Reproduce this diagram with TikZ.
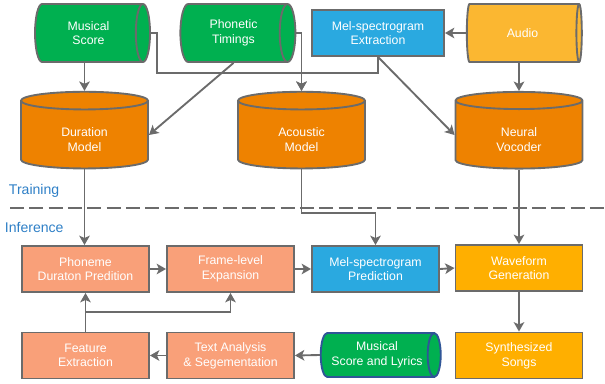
\documentclass[tikz,border=0pt]{standalone}
\usepackage{fontspec}
\setmainfont{Liberation Sans}
\usetikzlibrary{shapes.geometric,arrows.meta}

\definecolor{edgegray}{HTML}{6B6B6B}
\definecolor{dgreen}{HTML}{00B050}
\definecolor{dorange}{HTML}{EE8200}
\definecolor{dblue}{HTML}{2AA9E0}
\definecolor{dyellow}{HTML}{FBB731}
\definecolor{dgold}{HTML}{FFAF00}
\definecolor{dsalmon}{HTML}{F9A079}
\definecolor{dnavy}{HTML}{2F5597}
\definecolor{labelblue}{HTML}{2E7FC6}

\begin{document}
\begin{tikzpicture}
  [x=0.03cm,y=-0.03cm,
   every node/.style={text=white,font=\fontsize{10.5}{12.5}\selectfont,align=center,
     draw=edgegray,line width=1.6pt,inner sep=0pt},
   box/.style={rectangle,minimum width=3.81cm,minimum height=1.38cm},
   hcyl/.style={cylinder,aspect=0.6,cylinder uses custom fill,
     cylinder body fill=#1,cylinder end fill=#1,minimum width=1.74cm,minimum height=3.45cm},
   vcyl/.style={cylinder,shape border rotate=90,aspect=0.38,cylinder uses custom fill,
     cylinder body fill=dorange,cylinder end fill=dorange,minimum width=3.81cm,minimum height=2.3cm},
   arr/.style={draw=edgegray,line width=1.6pt,-{Stealth[length=8pt,width=9pt,inset=2pt]}},
   ln/.style={draw=edgegray,line width=1.6pt}]
  \useasboundingbox (0,0) rectangle (605,383);

  % training
  \node (ms)[hcyl=dgreen] at (88.5,33) {Musical\\Score};
  \node (pt)[hcyl=dgreen] at (233.5,33) {Phonetic\\Timings};
  \node (me)[box,fill=dblue,minimum width=3.96cm] at (378,33) {Mel-spectrogram\\Extraction};
  \node (au)[hcyl=dyellow] at (522.5,33) {Audio};
  \node (dm)[vcyl] at (84.5,135) {\mbox{}\\[3pt]Duration\\Model};
  \node (am)[vcyl] at (301.5,135) {\mbox{}\\[3pt]Acoustic\\Model};
  \node (nv)[vcyl] at (519,135) {\mbox{}\\[3pt]Neural\\Vocoder};

  \node (tr)[draw=none,text=labelblue,font=\fontsize{12}{14}\selectfont,anchor=west] at (8,191) {Training};
  \node (inf)[draw=none,text=labelblue,font=\fontsize{12}{14}\selectfont,anchor=west] at (4,227) {Inference};
  \coordinate (d1) at (10,208);
  \coordinate (d2) at (605,208);
  \draw[ln,line width=2pt,dash pattern=on 12pt off 4.5pt] (d1) -- (d2);

  % inference
  \node (pd)[box,fill=dsalmon] at (85.5,269) {Phoneme\\Duraton Predition};
  \node (fl)[box,fill=dsalmon] at (230.5,269) {Frame-level\\Expansion};
  \node (mp)[box,fill=dblue] at (375.5,269) {Mel-spectrogram\\Prediction};
  \node (wg)[box,fill=dgold] at (519,268) {Waveform\\Generation};
  \node (fx)[box,fill=dsalmon] at (85.5,355.5) {Feature\\Extraction};
  \node (ta)[box,fill=dsalmon] at (230.5,355.5) {Text Analysis\\\& Segementation};
  \node (sl)[hcyl=dgreen,draw=dnavy,aspect=0.5,minimum width=1.32cm,minimum height=3.6cm] at (377,355) {Musical\\Score and Lyrics};
  \node (ss)[box,fill=dgold] at (519,355.5) {Synthesized\\Songs};

  \coordinate (j1) at (157,73);
  \coordinate (j2) at (340,213);
  \coordinate (j3) at (85.5,312);

  \draw[arr] (dm.north |- ms.south) -- (dm.north);
  \draw[arr] (pt.south) -- (dm.east);
  \draw[arr] (ms.east) -| (j1) -| (am.north);
  \draw[arr] (pt.east) -| (am.north);
  \draw[ln] (me.south) |- (am.north |- j1);
  \draw[arr] (me.south) -- (nv.west);
  \draw[arr] (au.west) -- (me.east);
  \draw[arr] (nv.north |- au.south) -- (nv.north);

  \draw[arr] (dm.south) -- (dm.south |- pd.north);
  \draw[arr] (am.south) |- (j2) -| (mp.north);
  \draw[arr] (nv.south) -- (wg.north);
  \foreach \from/\to in {pd/fl,fl/mp,mp/wg}
    \draw[arr] (\from.east) -- (\to.west);
  \draw[arr] (wg.south) -- (ss.north);
  \draw[arr] (sl.west) -- (ta.east);
  \draw[arr] (ta.west) -- (fx.east);
  \draw[arr] (fx.north) -- (pd.south);
  \draw[arr] (j3) -| (fl.south);

\end{tikzpicture}
\end{document}
